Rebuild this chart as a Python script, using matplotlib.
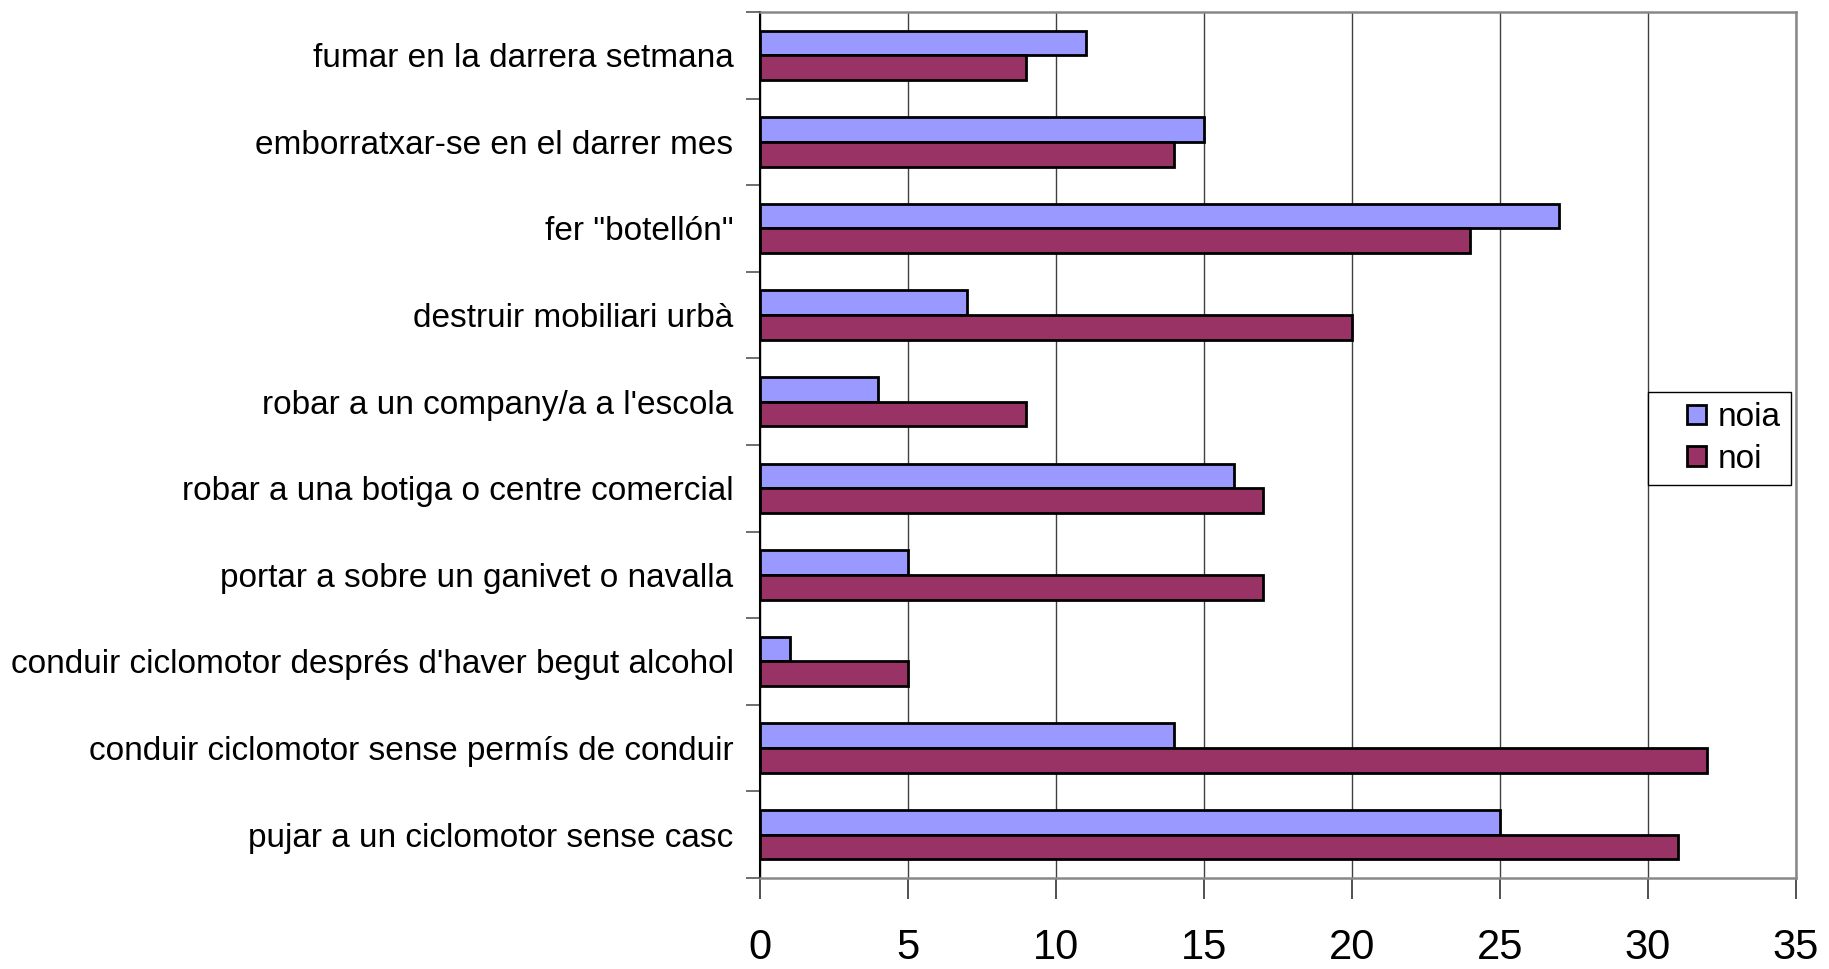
import matplotlib
matplotlib.use("Agg")
from matplotlib import pyplot as plt
from matplotlib.patches import Rectangle
from matplotlib.container import BarContainer
from matplotlib.legend_handler import HandlerPatch, update_from_first_child
import numpy as np

categories = ["fumar en la darrera setmana",
              "emborratxar-se en el darrer mes",
              'fer "botellón"',
              "destruir mobiliari urbà",
              "robar a un company/a a l'escola",
              "robar a una botiga o centre comercial",
              "portar a sobre un ganivet o navalla",
              "conduir ciclomotor després d'haver begut alcohol",
              "conduir ciclomotor sense permís de conduir",
              "pujar a un ciclomotor sense casc"]
noia = [11, 15, 27, 7, 4, 16, 5, 1, 14, 25]
noi = [9, 14, 24, 20, 9, 17, 17, 5, 32, 31]
xticks = [0, 5, 10, 15, 20, 25, 30, 35]

plt.rcParams['font.family'] = ['Liberation Sans', 'DejaVu Sans']

fig = plt.figure(figsize=(18.29, 9.69), dpi=100)
ax = fig.add_axes([0.4155, 0.094, 0.5665, 0.8936])

n = len(categories)
y = np.arange(n)
h = 0.285
ax.barh(y - h/2, noia, height=h, color="#9999FF", edgecolor="black", linewidth=2.0, label="noia", zorder=3)
ax.barh(y + h/2, noi, height=h, color="#993366", edgecolor="black", linewidth=2.0, label="noi", zorder=3)

ax.set_ylim(n - 0.5, -0.5)
ax.set_xlim(0, 35)

# ticks at category boundaries, labels at centres
ax.set_yticks(np.arange(n + 1) - 0.5)
ax.set_yticklabels([])
ax.set_yticks(y, minor=True)
ax.set_yticklabels(categories, minor=True, fontsize=24)
ax.tick_params(axis="y", which="major", length=10, width=1.2, color="#555555")
ax.tick_params(axis="y", which="minor", length=0, pad=19)

ax.set_xticks(xticks)
ax.set_xticklabels([str(v) for v in xticks], fontsize=30)
ax.tick_params(axis="x", length=15, width=1.2, color="#333333", pad=21)

ax.grid(axis="x", color="#404040", linewidth=1.0, zorder=0)
for s in ["top", "right", "bottom"]:
    ax.spines[s].set_color("#888888")
    ax.spines[s].set_linewidth(1.8)
ax.spines["left"].set_color("black")
ax.spines["left"].set_linewidth(1.5)


# small square legend keys, sitting at the right end of the handle box
def square_right(legend, orig_handle, xdescent, ydescent, width, height, fontsize):
    s = 14
    return Rectangle((width - s - xdescent, (height - s) / 2 - ydescent), s, s)


hm = {BarContainer: HandlerPatch(patch_func=square_right, update_func=update_from_first_child)}
leg = ax.legend(loc="upper left", bbox_to_anchor=(0.857, 0.561),
                prop={"size": 24}, handler_map=hm,
                frameon=True, fancybox=False, shadow=False, framealpha=1,
                handlelength=1.45, handleheight=0.6, handletextpad=0.35,
                borderpad=0.3, labelspacing=0.32, borderaxespad=0)
leg.get_frame().set_edgecolor("black")
leg.get_frame().set_linewidth(1.0)
leg.set_zorder(5)

fig.savefig("out.png", dpi=100)
